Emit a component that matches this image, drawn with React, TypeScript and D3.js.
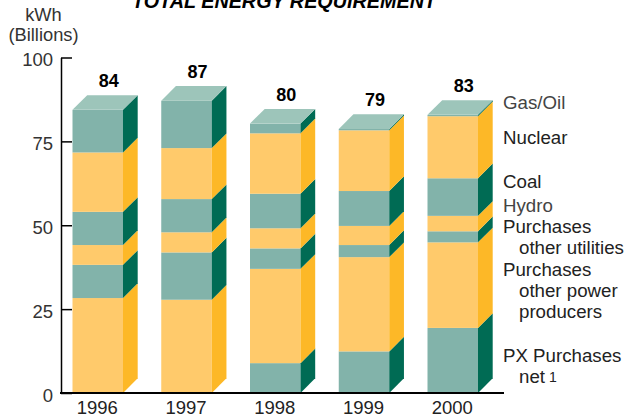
import { useEffect, useRef } from "react";
import * as d3 from "d3";

const years = ["1996", "1997", "1998", "1999", "2000"];
const totals = [84, 87, 80, 79, 83];
const yTicks = [0, 25, 50, 75, 100];

// one value per year, bottom of the stack first
const pxPurchases = [0, 0, 8.9, 12.4, 19.4];
const otherPower = [28.3, 27.8, 28.1, 28.1, 25.5];
const otherUtilities = [9.9, 14.1, 6.1, 3.6, 3.3];
const hydro = [5.9, 6, 6, 5.7, 4.6];
const coal = [9.9, 9.9, 10.3, 10.4, 11.2];
const nuclear = [17.7, 15.2, 18, 18.1, 18.5];
const gasOil = [12.7, 14.1, 2.9, 0.4, 0.4];

const seriesKeys = ["px", "power", "utilities", "hydro", "coal", "nuclear", "gas"];
const seriesValues = [pxPurchases, otherPower, otherUtilities, hydro, coal, nuclear, gasOil];

const legendLines = [
  { text: "Gas/Oil", y: 109, indent: 0, color: "#444" },
  { text: "Nuclear", y: 144, indent: 0, color: "#222" },
  { text: "Coal", y: 188, indent: 0, color: "#222" },
  { text: "Hydro", y: 212, indent: 0, color: "#444" },
  { text: "Purchases", y: 233, indent: 0, color: "#222" },
  { text: "other utilities", y: 254, indent: 16, color: "#222" },
  { text: "Purchases", y: 276, indent: 0, color: "#222" },
  { text: "other power", y: 297, indent: 16, color: "#222" },
  { text: "producers", y: 318, indent: 16, color: "#222" },
  { text: "PX Purchases", y: 362, indent: 0, color: "#222" },
  { text: "net", y: 383, indent: 16, color: "#222" },
];

const FONT = "'Liberation Sans', Arial, sans-serif";
const DEPTH = 14.7;

const tealFront = "#82B3AA";
const tealSide = "#006B54";
const orangeFront = "#FFCA6B";
const orangeSide = "#FDB827";
const topFace = "#9DC5BA";

export default function App() {
  const svgRef = useRef<SVGSVGElement>(null);

  useEffect(() => {
    const svg = d3.select(svgRef.current);
    svg.selectAll("*").remove();

    const y = d3.scaleLinear().domain([0, 100]).range([393, 57.5]);
    const x = d3.scaleBand().domain(years).range([72.5, 478]).paddingInner(0.431).paddingOuter(0);
    const w = x.bandwidth();

    const rows = years.map((year, i) => {
      const row: any = { year };
      seriesKeys.forEach((k, s) => (row[k] = seriesValues[s][i]));
      return row;
    });
    const stacked = d3.stack().keys(seriesKeys)(rows);

    const bars = svg.append("g");
    stacked.forEach((layer, s) => {
      const teal = s % 2 === 0;
      layer.forEach(d => {
        if (d[1] - d[0] <= 0) return;
        const x0 = x(d.data.year as string) as number;
        const y0 = y(d[0]);
        const y1 = y(d[1]);
        bars.append("rect")
          .attr("x", x0)
          .attr("y", y1)
          .attr("width", w)
          .attr("height", y0 - y1)
          .attr("fill", teal ? tealFront : orangeFront);
        const side = d3.path();
        side.moveTo(x0 + w, y0);
        side.lineTo(x0 + w + DEPTH, y0 - DEPTH);
        side.lineTo(x0 + w + DEPTH, y1 - DEPTH);
        side.lineTo(x0 + w, y1);
        side.closePath();
        bars.append("path").attr("d", side.toString()).attr("fill", teal ? tealSide : orangeSide);
      });
    });

    // top faces and the total above each column
    years.forEach((year, i) => {
      const top = y(d3.sum(seriesValues, v => v[i]));
      const x0 = x(year) as number;
      const face = d3.path();
      face.moveTo(x0, top);
      face.lineTo(x0 + DEPTH, top - DEPTH);
      face.lineTo(x0 + w + DEPTH, top - DEPTH);
      face.lineTo(x0 + w, top);
      face.closePath();
      bars.append("path").attr("d", face.toString()).attr("fill", topFace);

      svg.append("text")
        .attr("x", x0 + w / 2 + 11)
        .attr("y", top - 22.5)
        .attr("text-anchor", "middle")
        .attr("font-size", 18)
        .attr("font-weight", "bold")
        .attr("fill", "#000")
        .text(totals[i]);
    });

    const axis = svg.append("g")
      .attr("transform", "translate(61,0)")
      .call(d3.axisLeft(y).tickValues(yTicks).tickSize(-11).tickPadding(8).tickSizeOuter(0));
    axis.select(".domain").attr("stroke", "#000").attr("stroke-width", 1.5);
    axis.selectAll(".tick line").attr("stroke", "#000").attr("stroke-width", 1.5);
    axis.selectAll(".tick text")
      .attr("font-family", FONT)
      .attr("font-size", 18.5)
      .attr("dy", "0.44em")
      .attr("fill", "#333");

    svg.append("line")
      .attr("x1", 60)
      .attr("x2", 504)
      .attr("y1", y(0))
      .attr("y2", y(0))
      .attr("stroke", "#000")
      .attr("stroke-width", 2);

    years.forEach(year => {
      svg.append("text")
        .attr("x", (x(year) as number) + w / 2 - 0.5)
        .attr("y", 414)
        .attr("text-anchor", "middle")
        .attr("font-size", 18.5)
        .attr("fill", "#222")
        .text(year);
    });

    svg.append("text").attr("x", 43.5).attr("y", 21).attr("text-anchor", "middle").attr("font-size", 18.3).attr("fill", "#333").text("kWh");
    svg.append("text").attr("x", 43.5).attr("y", 41).attr("text-anchor", "middle").attr("font-size", 18.3).attr("fill", "#333").text("(Billions)");

    // the reference crops the title at the top edge too
    svg.append("text")
      .attr("x", 284)
      .attr("y", 7.5)
      .attr("text-anchor", "middle")
      .attr("font-size", 19.8)
      .attr("font-weight", "bold")
      .attr("font-style", "italic")
      .attr("fill", "#000")
      .text("TOTAL ENERGY REQUIREMENT");

    legendLines.forEach(l => {
      svg.append("text")
        .attr("x", 503 + l.indent)
        .attr("y", l.y)
        .attr("font-size", 18.7)
        .attr("fill", l.color)
        .text(l.text);
    });
    svg.append("text").attr("x", 549).attr("y", 382).attr("font-size", 14).attr("fill", "#222").text("1");
  }, []);

  return (
    <svg
      ref={svgRef}
      width={624}
      height={417}
      style={{ position: "absolute", left: 0, top: 0, fontFamily: FONT }}
    />
  );
}
